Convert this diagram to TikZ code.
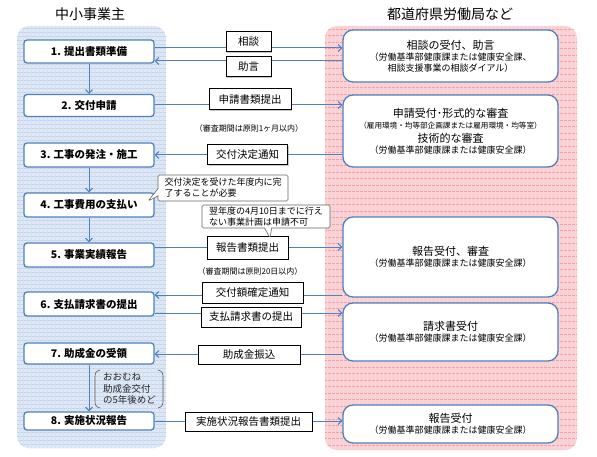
\documentclass[tikz,border=0pt]{standalone}
\usepackage{fontspec}
\setmainfont{Noto Sans CJK JP}
\usetikzlibrary{arrows.meta,shapes.callouts,shadows}
\definecolor{lblue}{HTML}{4F81BD}
\definecolor{panelb}{HTML}{DFE8F5}
\definecolor{panelbl}{HTML}{C3D4EC}
\definecolor{panelp}{HTML}{FAD0D3}
\definecolor{panelpl}{HTML}{F2A3AA}
\tikzset{
  lbox/.style={draw=lblue, line width=1.3pt, fill=white, rounded corners=3pt,
    minimum width=130pt, inner sep=0pt, font=\bfseries\fontsize{10.5}{12}\selectfont},
  rbox/.style={draw=lblue, line width=1.3pt, fill=white, rounded corners=10pt,
    minimum width=215pt, inner sep=0pt, align=center},
  mbox/.style={draw=black, line width=1pt, fill=white, inner sep=0pt,
    font=\fontsize{10.5}{12}\selectfont,
    drop shadow={shadow xshift=1.2pt, shadow yshift=-1.2pt, opacity=0.45}},
  conn/.style={lblue, line width=1pt, -{Straight Barb[length=3.5pt,width=7pt]}},
  note/.style={font=\fontsize{8}{10}\selectfont},
  callbox/.style={rectangle callout, draw=gray!80!black, line width=0.6pt, fill=white,
    rounded corners=1.5pt, align=left, inner sep=1.5pt, font=\fontsize{9}{11}\selectfont},
  titlet/.style={font=\fontsize{14}{16}\selectfont}
}
\begin{document}
\begin{tikzpicture}[x=1pt,y=-1pt]
\useasboundingbox (0,0) rectangle (597,457);
% panels
\fill[panelb, rounded corners=12pt] (17,26) rectangle (166,448);
\begin{scope}
  \clip[rounded corners=12pt] (17,26) rectangle (166,448);
  \foreach \y in {28,32,...,448} \draw[panelbl, line width=0.35pt] (17,\y) -- (166,\y);
  \foreach \x in {19,23,...,166} \draw[panelbl!70, line width=0.3pt] (\x,26) -- (\x,448);
\end{scope}
\fill[panelp, rounded corners=12pt] (325,26) rectangle (577,450);
\begin{scope}
  \clip[rounded corners=12pt] (325,26) rectangle (577,450);
  \foreach \y in {29,35.5,...,450} \draw[panelpl, line width=0.5pt] (325,\y) -- (577,\y);
  \foreach \x in {327,331,...,577} \draw[panelpl!45, line width=0.3pt] (\x,26) -- (\x,450);
\end{scope}
\node[titlet] (t1) at (90,14) {中小事業主};
\node[titlet] (t2) at (450,14) {都道府県労働局など};
% left boxes
\node[lbox, minimum height=23pt] (b1) at (89,51.5) {1. 提出書類準備};
\node[lbox, minimum height=22pt] (b2) at (89,105.5) {2. 交付申請};
\node[lbox, minimum height=24pt] (b3) at (89,155) {3. 工事の発注・施工};
\node[lbox, minimum height=24pt] (b4) at (89,205) {4. 工事費用の支払い};
\node[lbox, minimum height=24pt] (b5) at (89,255) {5. 事業実績報告};
\node[lbox, minimum height=24pt] (b6) at (89,304) {6. 支払請求書の提出};
\node[lbox, minimum height=21pt] (b7) at (89,353.5) {7. 助成金の受領};
\node[lbox, minimum height=18pt] (b8) at (89,421) {8. 実施状況報告};
% right boxes
\node[rbox, minimum height=52pt] (r1) at (450.5,56) {{\fontsize{11}{12.5}\selectfont 相談の受付、助言}\\[-1pt]
  {\fontsize{9}{11}\selectfont （労働基準部健康課または健康安全課、}\\[-1pt]
  {\fontsize{9}{11}\selectfont 相談支援事業の相談ダイアル）}};
\node[rbox, minimum height=72pt] (r2) at (450.5,131) {{\fontsize{11}{13}\selectfont 申請受付･形式的な審査}\\[-1pt]
  {\fontsize{7.6}{10}\selectfont （雇用環境・均等部企画課または雇用環境・均等室）}\\[2pt]
  {\fontsize{11}{13}\selectfont 技術的な審査}\\[-1pt]
  {\fontsize{9}{11}\selectfont （労働基準部健康課または健康安全課）}};
\node[rbox, minimum height=80pt] (r3) at (450.5,257) {{\fontsize{11}{13}\selectfont 報告受付、審査}\\[-1pt]
  {\fontsize{9}{11}\selectfont （労働基準部健康課または健康安全課）}};
\node[rbox, minimum height=58pt] (r4) at (450.5,332) {{\fontsize{11}{13}\selectfont 請求書受付}\\[-1pt]
  {\fontsize{9}{11}\selectfont （労働基準部健康課または健康安全課）}};
\node[rbox, minimum height=38pt] (r5) at (450.5,424) {{\fontsize{11}{13}\selectfont 報告受付}\\[-1pt]
  {\fontsize{9}{11}\selectfont （労働基準部健康課または健康安全課）}};
% vertical arrows
\draw[conn] (b1) -- (b2);
\draw[conn] (b3) -- (b4);
\draw[conn] (b4) -- (b5);
\draw[conn] (b7) -- (b8);
% horizontal connectors
\draw[conn] ([yshift=3.5pt]b1.east) -- ([yshift=3.5pt]b1.east -| r1.west);
\draw[conn] ([yshift=-5pt]r1.west) -- ([yshift=-5pt]r1.west -| b1.east);
\draw[conn] ([yshift=0.5pt]b2.east) -- ([yshift=0.5pt]b2.east -| r2.west);
\draw[conn] ([yshift=-24pt]r2.west) -- ([yshift=-24pt]r2.west -| b3.east);
\draw[conn] ([yshift=8pt]b5.east) -- ([yshift=8pt]b5.east -| r3.west);
\draw[conn] ([yshift=-38pt]r3.west) -- ([yshift=-38pt]r3.west -| b6.east);
\draw[conn] ([yshift=-9pt]b6.east) -- ([yshift=-9pt]b6.east -| r4.west);
\draw[conn] ([yshift=-22pt]r4.west) -- ([yshift=-22pt]r4.west -| b7.east);
\draw[conn] (b8.east) -- (b8.east -| r5.west);
% labels on connectors
\node[mbox, minimum width=45pt, minimum height=20pt] (m1) at (248.5,42) {相談};
\node[mbox, minimum width=45pt, minimum height=20pt] (m2) at (248.5,67) {助言};
\node[mbox, minimum width=82pt, minimum height=21pt] (m3) at (250,99.5) {申請書類提出};
\node[mbox, minimum width=80pt, minimum height=20pt] (m4) at (247.5,155) {交付決定通知};
\node[mbox, minimum width=81pt, minimum height=22pt] (m5) at (247.5,248) {報告書類提出};
\node[mbox, minimum width=101pt, minimum height=21pt] (m6) at (252.5,292.5) {交付額確定通知};
\node[mbox, minimum width=100pt, minimum height=20pt] (m7) at (251,317) {支払請求書の提出};
\node[mbox, minimum width=102pt, minimum height=19pt] (m8) at (249,354.5) {助成金振込};
\node[mbox, minimum width=127pt, minimum height=19pt] (m9) at (248.5,421.5) {実施状況報告書類提出};
% notes
\node[note] (n1) at (249,128) {（審査期間は原則1ヶ月以内）};
\node[note] (n2) at (250,271) {（審査期間は原則20日以内）};
% callouts
\node[callbox, minimum width=130pt, minimum height=26pt, callout absolute pointer={(148,201)}] (c1) at (223,188)
  {交付決定を受けた年度内に完\\了することが必要};
\node[callbox, minimum width=128pt, minimum height=23pt, callout absolute pointer={(270,238)}] (c2) at (266,216.5)
  {翌年度の4月10日までに行え\\ない事業計画は申請不可};
% bracket note
\draw[gray!70!black, line width=0.6pt] (100,370) .. controls (96,371) and (95,373) .. (95,377) -- (95,401)
  .. controls (95,405) and (96,407) .. (100,408);
\draw[gray!70!black, line width=0.6pt] (158,370) .. controls (162,371) and (163,373) .. (163,377) -- (163,401)
  .. controls (163,405) and (162,407) .. (158,408);
\node[align=left, anchor=west, inner sep=0pt, text=black!85, font=\fontsize{9.5}{11.5}\selectfont] (bn) at (103,389)
  {おおむね\\助成金交付\\の5年後めど};
\end{tikzpicture}
\end{document}
